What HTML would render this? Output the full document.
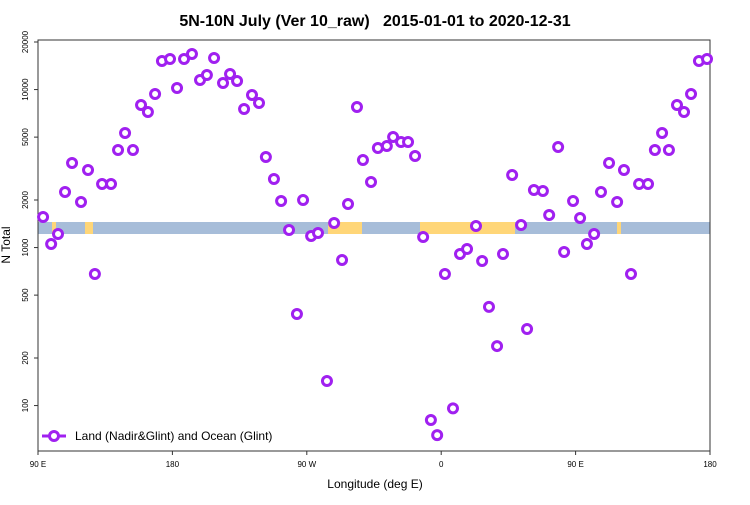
<!DOCTYPE html>
<html><head><meta charset="utf-8"><style>
body{margin:0;background:#fff}
svg text{font-family:"Liberation Sans",sans-serif}
</style></head><body>
<svg id="c" width="750" height="500">
<rect width="750" height="500" fill="#fff"/>
<text x="375" y="26" text-anchor="middle" font-size="16" font-weight="bold">5N-10N July (Ver 10_raw)&#160;&#160;&#160;2015-01-01 to 2020-12-31</text>
<g id="band"></g>
<g id="axes"></g>
<g id="pts"></g>
<text x="375" y="488" text-anchor="middle" font-size="12">Longitude (deg E)</text>
<text transform="translate(10,245) rotate(-90)" text-anchor="middle" font-size="12">N Total</text>
<g>
<line x1="42" y1="436" x2="66" y2="436" stroke="#a020f0" stroke-width="3"/>
<circle cx="54" cy="436" r="4.5" fill="#fff" stroke="#a020f0" stroke-width="3"/>
<text x="75" y="440" font-size="12">Land (Nadir&amp;Glint) and Ocean (Glint)</text>
</g>
</svg>
<script>
const lons=[93.4,98.8,103.4,108.1,112.8,118.8,123.5,128.1,132.9,138.9,143.6,148.3,153.6,159.0,163.6,168.4,173.0,178.4,183.1,187.8,193.1,198.5,203.1,207.9,213.9,218.6,223.3,228.0,233.3,238.0,242.6,248.0,252.8,258.1,263.4,267.5,272.9,277.5,283.5,288.3,293.6,297.6,303.6,307.6,313.0,317.6,323.6,327.8,333.1,337.8,342.5,347.9,353.1,357.3,362.5,367.9,372.6,377.3,383.3,387.4,392.0,397.4,401.4,407.5,413.5,417.5,422.1,428.1,432.3,438.3,442.3,448.3,453.0,457.6,462.4,467.0,472.4,477.8,482.4,487.1,492.5,498.5,503.1,507.9,512.5,517.9,522.6,527.3,532.6,538.0];
const counts=[1561,1053,1218,2246,3429,1943,3097,680,2526,2526,4144,5310,4144,7985,7211,9374,15160,15610,10230,15610,16800,11490,12370,15840,11000,12550,11330,7530,9240,8220,3743,2716,1970,1291,380,2000,1184,1236,143,1430,834,1887,7755,3583,2600,4267,4393,5008,4658,4658,3797,1166,81,65,680,96,910,980,1369,822,421,238,910,2879,1389,305,2313,2280,1607,4328,937,1970,1539,1053,1218,2246,3429,1943,3097,680,2526,2526,4144,5310,4144,7985,7211,9374,15160,15610];
const yTicks=[100,200,500,1000,2000,5000,10000,20000];
const xTicks=[90,180,270,360,450,540];
const xTickLabels=["90 E","180","90 W","0","90 E","180"];
const NS="http://www.w3.org/2000/svg";
const X0=38,X1=710,Y0=40,Y1=451;
const xs=l=>X0+(l-90)*(X1-X0)/450;
const ys=v=>42+(Math.log10(20000)-Math.log10(v))*158;
function mk(t,a,p){const e=document.createElementNS(NS,t);for(const k in a)e.setAttribute(k,a[k]);p.appendChild(e);return e;}
const band=document.getElementById('band');
mk('rect',{x:X0,y:222,width:X1-X0,height:12,fill:'#a7bdd9'},band);
[[420,515],[328,362],[85,93],[52,56],[617,621]].forEach(r=>{mk('rect',{x:r[0],y:222,width:r[1]-r[0],height:12,fill:'#ffd678'},band);});
const ax=document.getElementById('axes');
const frame=mk('rect',{x:X0,y:Y0,width:X1-X0,height:Y1-Y0,fill:'none',stroke:'#333','stroke-width':1},ax);


yTicks.forEach(v=>{const y=ys(v);
mk('line',{x1:X0-4,y1:y,x2:X0,y2:y,stroke:'#333'},ax);
const t=mk('text',{x:0,y:0,'font-size':8,'text-anchor':'middle',transform:'translate('+(X0-10)+','+y+') rotate(-90)'},ax);t.textContent=v;

});
xTicks.forEach((l,i)=>{const x=xs(l);
mk('line',{x1:x,y1:Y1,x2:x,y2:Y1+4,stroke:'#333'},ax);
const t=mk('text',{x:x,y:Y1+16,'font-size':8,'text-anchor':'middle'},ax);t.textContent=xTickLabels[i];

});
const pg=document.getElementById('pts');
lons.forEach((l,i)=>{const c=mk('circle',{cx:xs(l),cy:ys(counts[i]),r:4.5,fill:'#fff',stroke:'#a020f0','stroke-width':3},pg);

});
</script>
</body></html>
